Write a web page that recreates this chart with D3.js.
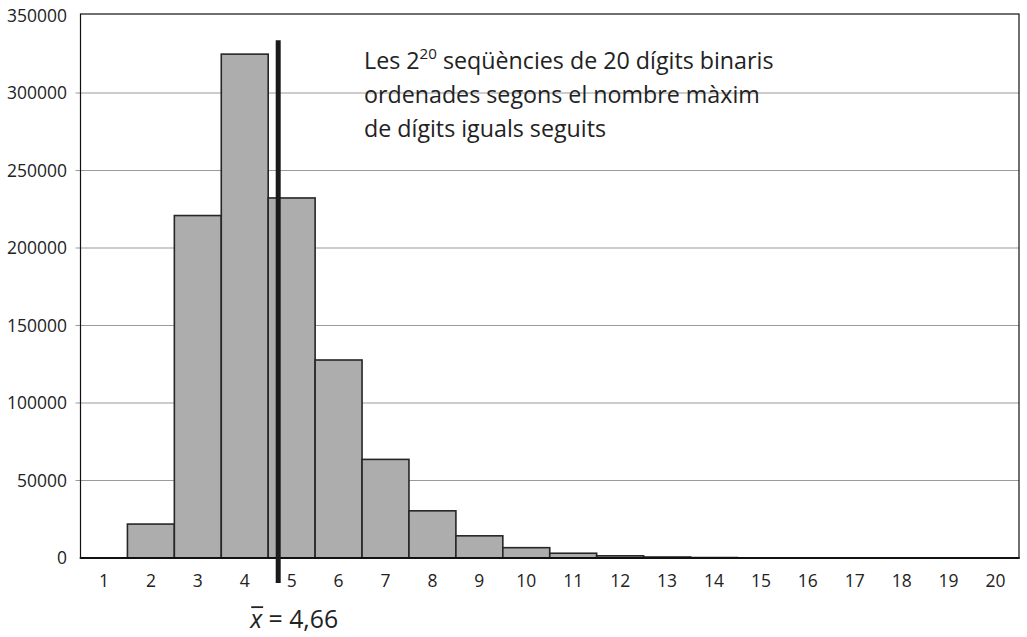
<!DOCTYPE html>
<html><head><meta charset="utf-8">
<script src="https://cdn.jsdelivr.net/npm/d3@7"></script>
<style>
body{margin:0;background:#fff;}
svg text{font-family:"Open Sans",sans-serif;fill:#222;}
</style>
</head><body>
<svg id="chart" width="1027" height="637"></svg>
<script>
// ---- data ----
const categories = [1,2,3,4,5,6,7,8,9,10,11,12,13,14,15,16,17,18,19,20];
const counts = [2,21890,220938,325076,232286,127744,63616,30436,14302,6654,3072,1408,640,288,128,56,24,10,4,2];
const yTicks = [0,50000,100000,150000,200000,250000,300000,350000];
const yMax = 350000;
const meanValue = 4.66;
const meanLineTop = 334000;
const meanLabel = "4,66";
const annotationLines = [
  ["Les 2", "20", " seqüències de 20 dígits binaris"],
  ["ordenades segons el nombre màxim"],
  ["de dígits iguals seguits"]
];

// ---- layout ----
const svg = d3.select("#chart");
const mLeft = 80.5, mRight = 1019, mTop = 15.5, mBottom = 558;

const x = d3.scaleBand().domain(categories).range([mLeft, mRight]).padding(0);
const y = d3.scaleLinear().domain([0, yMax]).range([mBottom, mTop]);
const bw = x.bandwidth();
const xm = d3.scaleLinear().domain([1, 20]).range([x(1) + bw/2 + 2.5, x(20) + bw/2 + 2.5]);

function fitSize(sel, base, target) {
  const w = sel.node().getComputedTextLength();
  return base * target / w;
}

// measure label size: "350000" spans ~60px in reference
const probe = svg.append("text").attr("font-size", 17).text(String(yMax));
const labelSize = fitSize(probe, 17, 60);
probe.remove();

// gridlines
svg.append("g").selectAll("line")
  .data(yTicks.filter(d => d > 0 && d < yMax))
  .join("line")
  .attr("x1", mLeft - 5).attr("x2", mRight)
  .attr("y1", d => y(d)).attr("y2", d => y(d))
  .attr("stroke", "#9a9a9a").attr("stroke-width", 1.1);

// y labels
svg.append("g").selectAll("text")
  .data(yTicks).join("text")
  .attr("x", 67).attr("y", d => y(d)).attr("dy", "0.35em")
  .attr("text-anchor", "end").attr("font-size", labelSize)
  .text(d => d);

// bars
svg.append("g").selectAll("rect")
  .data(categories.map((c, i) => ({c, v: counts[i]})))
  .join("rect")
  .attr("x", d => x(d.c)).attr("width", bw)
  .attr("y", d => y(d.v)).attr("height", d => y(0) - y(d.v))
  .attr("fill", "#adadad").attr("stroke", "#262626").attr("stroke-width", 1.6);

// frame
svg.append("rect")
  .attr("x", mLeft).attr("y", y(yMax) - 1.5).attr("width", mRight - mLeft).attr("height", mBottom - y(yMax) + 1.5)
  .attr("fill", "none").attr("stroke", "#111").attr("stroke-width", 1.2);
svg.append("line")
  .attr("x1", mLeft).attr("x2", mRight).attr("y1", y(0)).attr("y2", y(0))
  .attr("stroke", "#111").attr("stroke-width", 2.2);

// x labels
svg.append("g").selectAll("text")
  .data(categories).join("text")
  .attr("x", d => x(d) + bw/2).attr("y", 587)
  .attr("text-anchor", "middle").attr("font-size", labelSize)
  .text(d => d);

// mean line
svg.append("line")
  .attr("x1", xm(meanValue)).attr("x2", xm(meanValue))
  .attr("y1", y(meanLineTop)).attr("y2", y(0) + 25)
  .attr("stroke", "#1a1a1a").attr("stroke-width", 5);

// mean label
const ml = svg.append("text")
  .attr("x", xm(meanValue) - 28).attr("y", 628)
  .attr("font-size", 25);
ml.append("tspan").attr("font-style", "italic").text("x");
ml.append("tspan").text(" = " + meanLabel);
const mlSize = fitSize(ml, 25, 88);
ml.attr("font-size", mlSize);
{
  const n = ml.node();
  const x0 = n.getStartPositionOfChar(0).x, x1 = n.getEndPositionOfChar(0).x;
  svg.append("line")
    .attr("x1", x0 + 1).attr("x2", x1 + 1)
    .attr("y1", 628 - mlSize * 0.84).attr("y2", 628 - mlSize * 0.84)
    .attr("stroke", "#222").attr("stroke-width", 1.8);
}

// annotation
const annSel = [];
annotationLines.forEach((parts, i) => {
  const t = svg.append("text").attr("x", 364).attr("y", 69 + i * 34).attr("font-size", 21);
  if (parts.length === 3) {
    t.append("tspan").text(parts[0]);
    t.append("tspan").attr("class", "sup").attr("dy", -9).text(parts[1]);
    t.append("tspan").attr("class", "after").attr("dy", 9).text(parts[2]);
  } else {
    t.text(parts[0]);
  }
  annSel.push(t);
});
const annSize = fitSize(annSel[0], 21, 419);
annSel.forEach(t => t.attr("font-size", annSize));
annSel[0].select(".sup").attr("font-size", annSize * 0.65).attr("dy", -annSize * 0.42);
annSel[0].select(".after").attr("dy", annSize * 0.42);
</script>
</body></html>
